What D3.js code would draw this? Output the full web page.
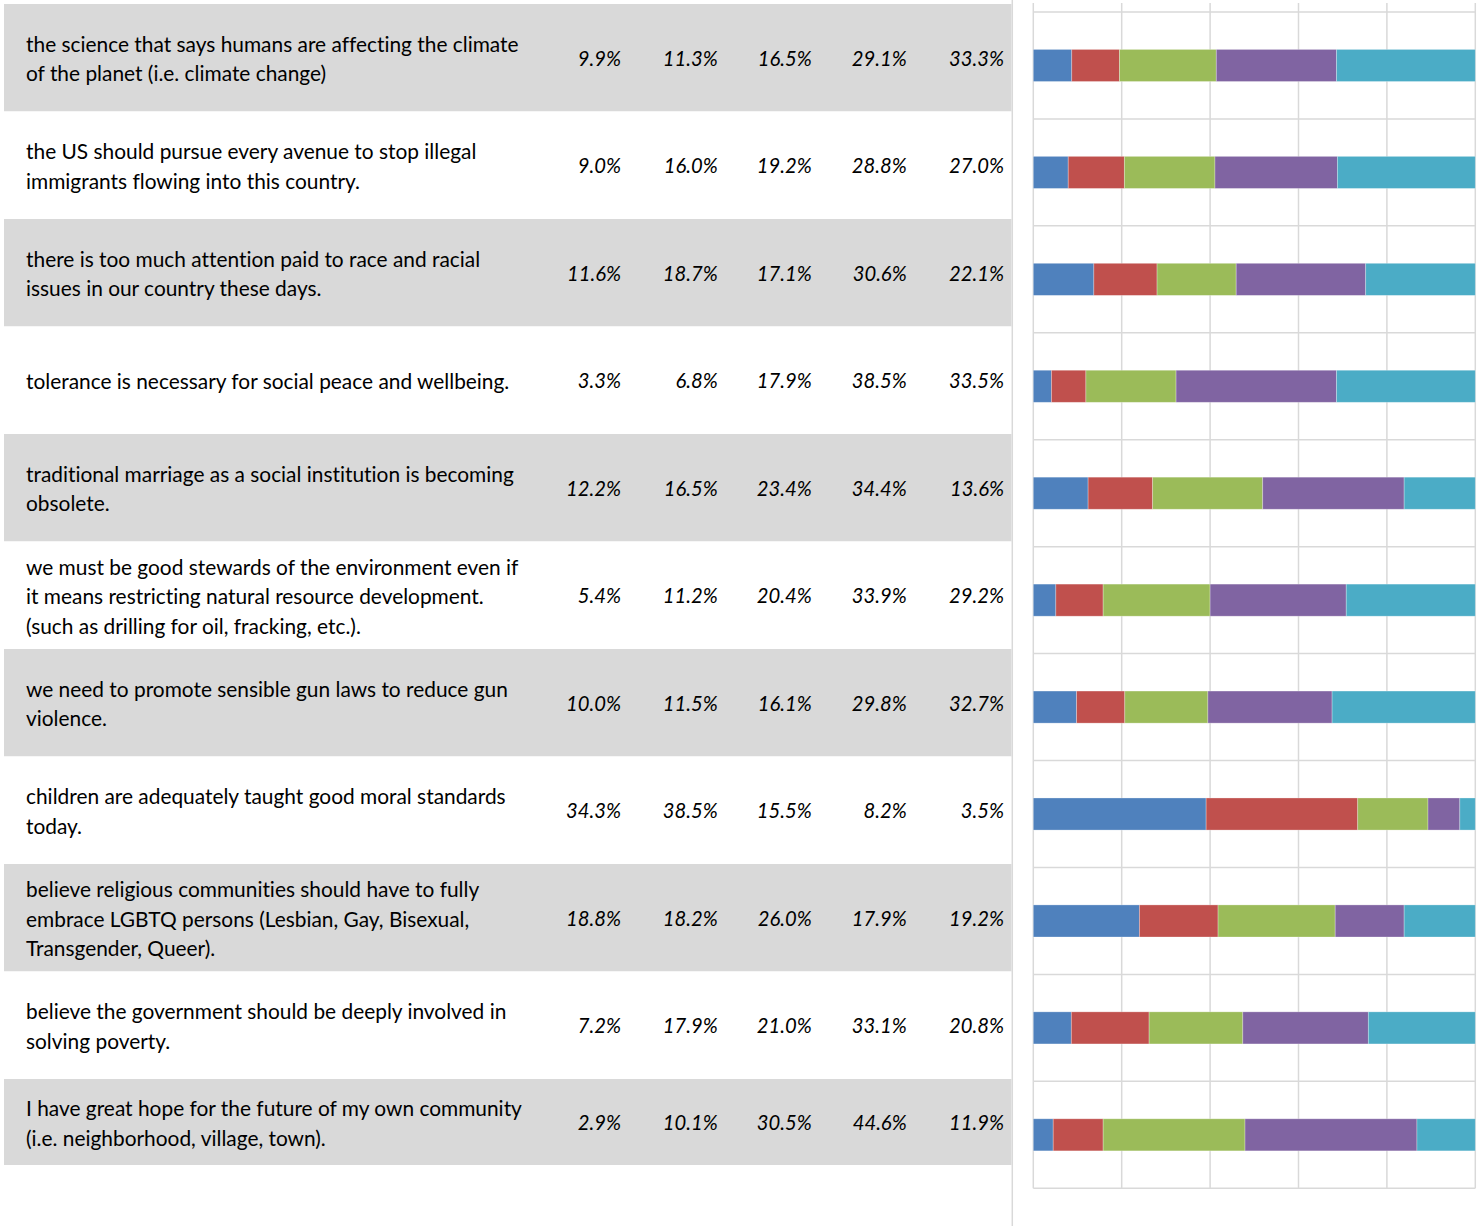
<!DOCTYPE html>
<html>
<head>
<meta charset="utf-8">
<script src="https://cdn.jsdelivr.net/npm/d3@7"></script>
<style>
  html, body { margin: 0; padding: 0; background: #fff; }
  svg { display: block; }
  text { font-variant-ligatures: none; }
</style>
</head>
<body>
<svg id="chart" width="1482" height="1226"></svg>
<script>
// ---------- DATA ----------
const categories = [
  ["the science that says humans are affecting the climate", "of the planet (i.e. climate change)"],
  ["the US should pursue every avenue to stop illegal", "immigrants flowing into this country."],
  ["there is too much attention paid to race and racial", "issues in our country these days."],
  ["tolerance is necessary for social peace and wellbeing."],
  ["traditional marriage as a social institution is becoming", "obsolete."],
  ["we must be good stewards of the environment even if", "it means restricting natural resource development.", "(such as drilling for oil, fracking, etc.)."],
  ["we need to promote sensible gun laws to reduce gun", "violence."],
  ["children are adequately taught good moral standards", "today."],
  ["believe religious communities should have to fully", "embrace LGBTQ persons (Lesbian, Gay, Bisexual,", "Transgender, Queer)."],
  ["believe the government should be deeply involved in", "solving poverty."],
  ["I have great hope for the future of my own community", "(i.e. neighborhood, village, town)."]
];

// table percentages (columns)
const pct1 = [9.9, 9.0, 11.6, 3.3, 12.2, 5.4, 10.0, 34.3, 18.8, 7.2, 2.9];
const pct2 = [11.3, 16.0, 18.7, 6.8, 16.5, 11.2, 11.5, 38.5, 18.2, 17.9, 10.1];
const pct3 = [16.5, 19.2, 17.1, 17.9, 23.4, 20.4, 16.1, 15.5, 26.0, 21.0, 30.5];
const pct4 = [29.1, 28.8, 30.6, 38.5, 34.4, 33.9, 29.8, 8.2, 17.9, 33.1, 44.6];
const pct5 = [33.3, 27.0, 22.1, 33.5, 13.6, 29.2, 32.7, 3.5, 19.2, 20.8, 11.9];

// stacked bar segments as drawn (percent of full bar)
const bar1 = [8.7, 7.9, 13.7, 4.1, 12.4, 5.1, 9.8, 39.1, 24.0, 8.6, 4.5];
const bar2 = [10.8, 12.7, 14.3, 7.8, 14.6, 10.7, 10.9, 34.3, 17.8, 17.6, 11.3];
const bar3 = [21.9, 20.5, 17.9, 20.4, 24.9, 24.2, 18.8, 15.9, 26.5, 21.2, 32.1];
const bar4 = [27.2, 27.7, 29.3, 36.3, 32.0, 30.8, 28.1, 7.2, 15.6, 28.4, 38.9];
const bar5 = [31.4, 31.2, 24.8, 31.4, 16.1, 29.2, 32.4, 3.5, 16.1, 24.2, 13.2];

const seriesKeys = ["s1", "s2", "s3", "s4", "s5"];
const seriesColors = ["#4f81bd", "#c0504d", "#9bbb59", "#8064a2", "#4bacc6"];
const xTicks = [0, 20, 40, 60, 80, 100];

// ---------- BUILD ----------
const svg = d3.select("#chart");
const n = categories.length;
const pctCols = [pct1, pct2, pct3, pct4, pct5];
const bars = [bar1, bar2, bar3, bar4, bar5];

const fontFamily = "Lato, 'Open Sans', sans-serif";

// Table geometry
const tableLeft = 4, tableRight = 1011.5, tableTop = 4, rowH = 107.5, lastRowH = 86;
const rowTop = i => tableTop + i * rowH;
const rowHeight = i => (i === n - 1 ? lastRowH : rowH);
const colRight = [621, 717.7, 811.7, 906.7, 1004];

// measure fonts to fit reference text widths
function fitSize(text, style, target) {
  const t = svg.append("text").attr("font-family", fontFamily)
    .attr("font-style", style).attr("font-size", 20).text(text);
  const w = t.node().getComputedTextLength();
  t.remove();
  return 20 * target / w;
}
const labelSize = fitSize("the science that says humans are affecting the climate", "normal", 493);
const numSize = fitSize("33.3%", "italic", 55);

const table = svg.append("g");
const rows = table.selectAll("g.row").data(categories).join("g").attr("class", "row");

rows.append("rect")
  .attr("x", tableLeft)
  .attr("y", (d, i) => rowTop(i))
  .attr("width", tableRight - tableLeft)
  .attr("height", (d, i) => rowHeight(i))
  .attr("fill", (d, i) => (i % 2 === 0 ? "#d9d9d9" : "#ffffff"));

const lineGap = 29.5;
rows.each(function (lines, i) {
  const cy = rowTop(i) + rowHeight(i) / 2;
  const g = d3.select(this);
  const start = cy + 1.5 - (lines.length - 1) * lineGap / 2;
  g.selectAll("text.lab").data(lines).join("text")
    .attr("class", "lab")
    .attr("x", 26)
    .attr("y", (l, k) => start + k * lineGap)
    .attr("dy", "0.35em")
    .attr("font-family", fontFamily)
    .attr("font-size", labelSize)
    .attr("fill", "#000")
    .text(l => l);
  g.selectAll("text.num").data(pctCols.map(c => c[i])).join("text")
    .attr("class", "num")
    .attr("x", (v, k) => colRight[k])
    .attr("y", cy + 1)
    .attr("dy", "0.35em")
    .attr("text-anchor", "end")
    .attr("font-family", fontFamily)
    .attr("font-style", "italic")
    .attr("font-size", numSize)
    .attr("fill", "#000")
    .text(v => v.toFixed(1) + "%");
});

// separator line between table and chart
svg.append("line")
  .attr("x1", 1012.3).attr("x2", 1012.3).attr("y1", 0).attr("y2", 1226)
  .attr("stroke", "#d9d9d9").attr("stroke-width", 1.5);

// ---------- CHART ----------
const x = d3.scaleLinear().domain([0, 100]).range([1033.3, 1475.3]);
const y = d3.scaleBand().domain(d3.range(n)).range([12, 1188.3])
  .paddingInner(0.7).paddingOuter(0.35);

const grid = svg.append("g");
grid.selectAll("line.v").data(xTicks).join("line")
  .attr("class", "v")
  .attr("x1", d => x(d)).attr("x2", d => x(d))
  .attr("y1", 3).attr("y2", 1188.3)
  .attr("stroke", "#d9d9d9").attr("stroke-width", 1.5);

const step = y.step();
const hLines = d3.range(n + 1).map(k => 12 + k * step);
grid.selectAll("line.h").data(hLines).join("line")
  .attr("class", "h")
  .attr("x1", x(0)).attr("x2", x(100))
  .attr("y1", d => d).attr("y2", d => d)
  .attr("stroke", "#d9d9d9").attr("stroke-width", 1.5);

const table2 = d3.range(n).map(i => {
  const o = { idx: i };
  seriesKeys.forEach((k, j) => (o[k] = bars[j][i]));
  return o;
});
const stacked = d3.stack().keys(seriesKeys)(table2);

svg.append("g").selectAll("g").data(stacked).join("g")
  .attr("fill", (d, j) => seriesColors[j])
  .selectAll("rect").data(d => d).join("rect")
  .attr("x", d => x(d[0]))
  .attr("y", d => y(d.data.idx))
  .attr("width", d => x(d[1]) - x(d[0]))
  .attr("height", y.bandwidth())
  .attr("stroke", "rgba(255,255,255,0.35)")
  .attr("stroke-width", 0.8);
</script>
</body>
</html>
